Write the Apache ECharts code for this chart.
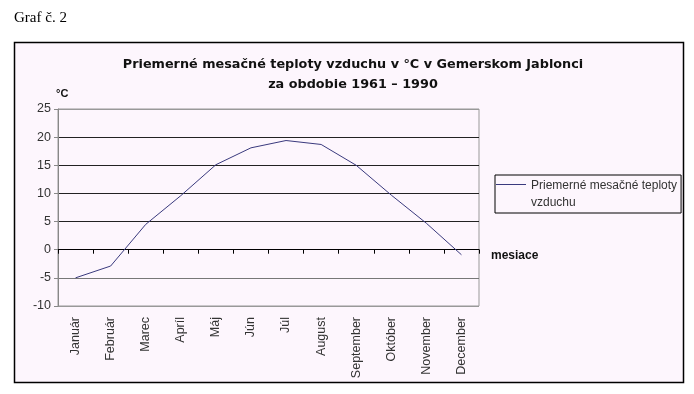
<!DOCTYPE html>
<html><head><meta charset="utf-8">
<script src="https://cdn.jsdelivr.net/npm/echarts@6/dist/echarts.min.js"></script>
<style>html,body{margin:0;padding:0;background:#fff}#c{width:694px;height:394px}</style>
</head><body><div id="c"></div>
<script>
const categories = ['Január','Február','Marec','Apríl','Máj','Jún','Júl','August','September','Október','November','December'];
const temperatures = [-5.0, -2.9, 4.5, 9.6, 15.1, 18.1, 19.4, 18.7, 15.0, 9.7, 4.7, -0.9];
const seriesName = 'Priemerné mesačné teploty\nvzduchu';
const yMin = -10, yMax = 25, yStep = 5;

const chart = echarts.init(document.getElementById('c'), null, {renderer: 'canvas'});
const F = 'Liberation Sans, Arial, sans-serif';
chart.setOption({
  backgroundColor: '#ffffff',
  animation: false,
  title: {
    text: 'Priemerné mesačné teploty vzduchu v °C v Gemerskom Jablonci\nza obdobie 1961 – 1990',
    left: 348, top: 50, textAlign: 'center',
    textStyle: {fontFamily: '"DejaVu Sans", sans-serif', fontSize: 12.8, fontWeight: 'bold', color: '#111', lineHeight: 20}
  },
  legend: {
    left: 495, top: 175,
    orient: 'vertical',
    borderColor: '#000', borderWidth: 1,
    padding: [2, 4, 2, 1],
    itemWidth: 30, itemHeight: 20, itemGap: 0,
    icon: 'path://M0,0H30V1H0Z M29.9,19.9H30V20H29.9Z',
    textStyle: {fontFamily: F, fontSize: 12, color: '#333', lineHeight: 17},
    data: [seriesName]
  },
  grid: {left: 58, right: 215, top: 109, bottom: 88, show: true, borderColor: '#999', borderWidth: 1, backgroundColor: 'transparent'},
  xAxis: [{
    type: 'category', data: categories, boundaryGap: true, position: 'bottom',
    axisLine: {onZero: true, lineStyle: {color: '#000', width: 1}},
    axisTick: {show: true, interval: 0, inside: false, length: 4, lineStyle: {color: '#000'}},
    axisLabel: {show: false, interval: 0}, splitLine: {show: false}
  }, {
    type: 'category', data: categories, boundaryGap: true, position: 'bottom',
    axisLine: {show: false, onZero: false}, axisTick: {show: false},
    axisLabel: {show: true, interval: 0, rotate: 90, margin: 11, fontFamily: F, fontSize: 12.5, color: '#333'},
    splitLine: {show: false}
  }],
  yAxis: {
    type: 'value', min: yMin, max: yMax, interval: yStep,
    axisLine: {show: true, lineStyle: {color: '#888'}},
    axisTick: {show: true, length: 4, lineStyle: {color: '#888'}},
    axisLabel: {fontFamily: F, fontSize: 12.5, color: '#333', margin: 7},
    splitLine: {show: true, lineStyle: {color: ['#999', '#777', '#000', '#222', '#222', '#222', '#222', '#999'], width: 1}}
  },
  series: [{
    name: seriesName, type: 'line', data: temperatures, xAxisIndex: 0,
    symbol: 'none', smooth: false,
    lineStyle: {color: '#3a3a7e', width: 1}, itemStyle: {color: '#3a3a7e'}
  }],
  graphic: [
    {type: 'rect', z: -100, shape: {x: 14.5, y: 42.5, width: 669, height: 340}, style: {fill: '#fdf6fd', stroke: '#000', lineWidth: 1.5}},
    {type: 'text', left: 14, top: 11, style: {text: 'Graf č. 2', font: '15px "Liberation Serif", "Times New Roman", serif', fill: '#000'}},
    {type: 'text', left: 56, top: 88, style: {text: '°C', font: 'bold 11px ' + F, fill: '#111'}},
    {type: 'text', left: 491, top: 250, style: {text: 'mesiace', font: 'bold 12px ' + F, fill: '#111'}}
  ]
});
</script></body></html>
